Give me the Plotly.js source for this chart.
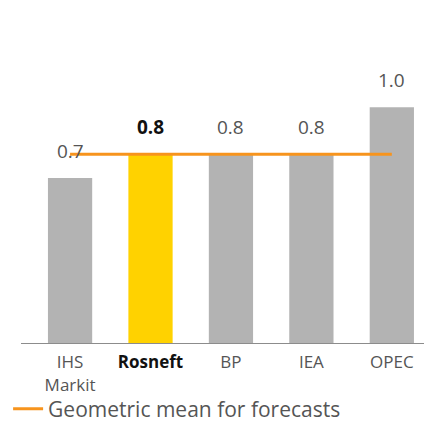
<!DOCTYPE html>
<html>
<head>
<meta charset="utf-8">
<script src="https://cdn.plot.ly/plotly-3.0.1.min.js"></script>
<style>html,body{margin:0;padding:0;background:#fff;}#chart{width:424px;height:423px;}</style>
</head>
<body>
<div id="chart"></div>
<script>
const categories = ["IHS Markit", "Rosneft", "BP", "IEA", "OPEC"];
const tickLabels = ["IHS<br>Markit", "<span style=\"color:#111\"><b>Rosneft</b></span>", "BP", "IEA", "OPEC"];
const values = [0.7, 0.8, 0.8, 0.8, 1.0];
const valueLabels = ["0.7", "<b>0.8</b>", "0.8", "0.8", "1.0"];
const meanLine = [0.8, 0.8, 0.8, 0.8, 0.8];
const meanName = "Geometric mean for forecasts";

const barColors = categories.map(c => c === "Rosneft" ? "#FFD200" : "#B3B3B3");
const labelColors = categories.map(c => c === "Rosneft" ? "#111111" : "#555555");
const FONT = "'Open Sans', sans-serif";

const traces = [
  {
    type: "bar", x: categories, y: values, width: 0.55,
    marker: {color: barColors}, showlegend: false, hoverinfo: "none"
  },
  {
    type: "scatter", mode: "lines", x: categories, y: meanLine, name: meanName,
    line: {color: "#F7941D", width: 3}, hoverinfo: "none"
  }
];

const annotations = categories.map((c, i) => ({
  x: c, y: values[i], xref: "x", yref: "y", text: valueLabels[i],
  showarrow: false, yanchor: "bottom", yshift: 12,
  font: {family: FONT, size: 19, color: labelColors[i]}
}));

const layout = {
  width: 424, height: 423,
  margin: {l: 21, r: 0, t: 60, b: 80},
  paper_bgcolor: "#fff", plot_bgcolor: "#fff",
  font: {family: FONT, color: "#555555"},
  xaxis: {
    type: "category", range: [-0.61, 4.4],
    tickvals: categories, ticktext: tickLabels,
    tickfont: {family: FONT, size: 17, color: "#555555"},
    ticklabelstandoff: 4,
    showline: true, linecolor: "#8c8c8c", linewidth: 1,
    ticks: "", showgrid: false, zeroline: false, fixedrange: true
  },
  yaxis: {
    range: [0, 1.2], visible: false, showgrid: false, zeroline: false, fixedrange: true
  },
  showlegend: true,
  legend: {
    orientation: "h", xref: "paper", yref: "container",
    x: -0.032, xanchor: "left", y: 1 - 409 / 423, yanchor: "middle",
    font: {family: FONT, size: 21, color: "#555555"}, bgcolor: "rgba(0,0,0,0)"
  },
  annotations: annotations
};

Plotly.newPlot("chart", traces, layout, {displayModeBar: false, staticPlot: true});
</script>
</body>
</html>
